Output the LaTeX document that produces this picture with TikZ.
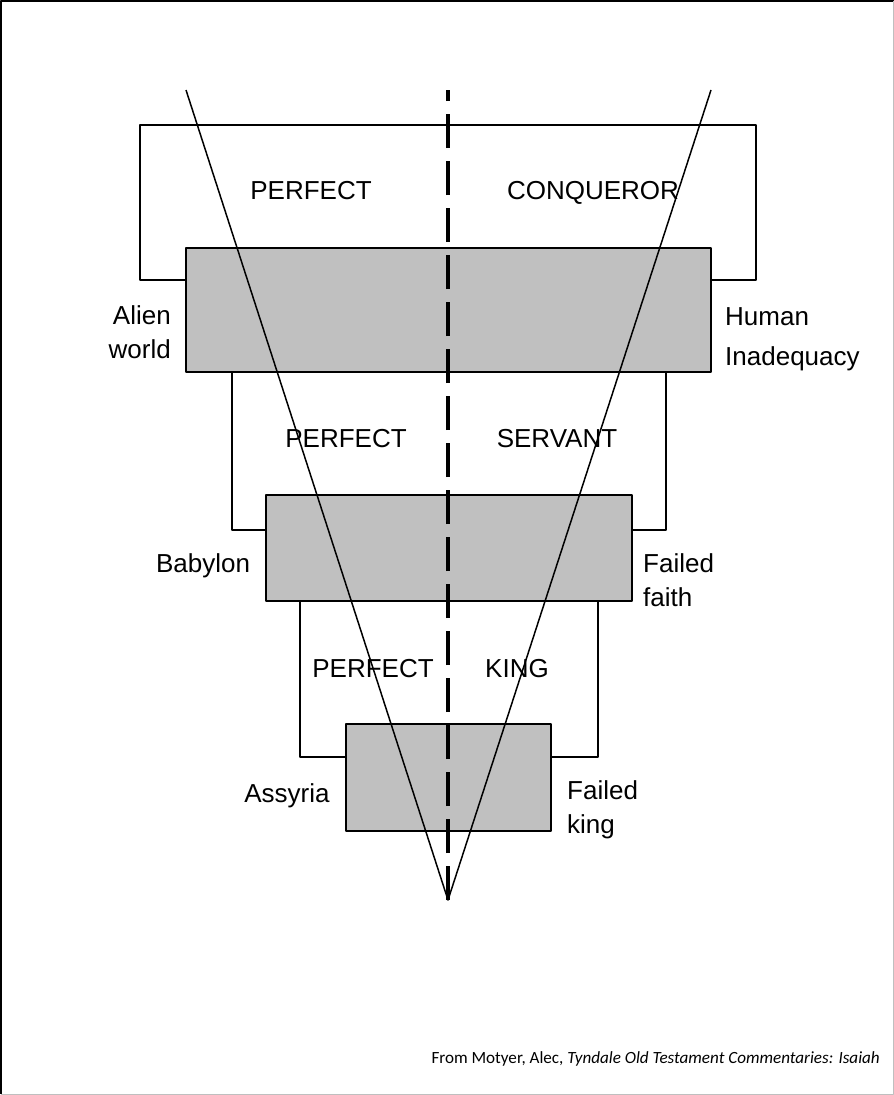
\documentclass[tikz,border=0pt]{standalone}
\usepackage{fontspec}
\setmainfont{Liberation Sans}
\newfontfamily\notefont{Carlito}
\definecolor{boxgray}{RGB}{192,192,192}
\begin{document}
\begin{tikzpicture}[x=1pt,y=-1pt,line join=round,
    graybox/.style={draw,fill=boxgray,line width=1.5pt,inner sep=0pt},
    frame/.style={line width=1.5pt},
    lbl/.style={font=\fontsize{26}{34}\selectfont,inner sep=0pt,anchor=base}]
  \useasboundingbox (0,0) rectangle (894,1095);
  % page border
  \draw[line width=1.5pt] (0.75,1094) -- (0.75,0.75) -- (893.5,0.75);
  \draw[black!25,line width=1pt] (893.5,0.75) -- (893.5,1094.5) -- (0.75,1094.5);
  % the three grey boxes
  \foreach \n/\x/\y/\w/\h in {upper/448.5/310/525/124,middle/449/548/366/106,lower/448.5/777.5/205/107}
    \node[graybox,minimum width=\w pt,minimum height=\h pt] (\n) at (\x,\y) {};
  % frames
  \draw[frame] (upper.west |- 0,280) -| (140,125) -| (756,280) -- (upper.east |- 0,280);
  \draw[frame] (upper.south -| 232,0) |- (middle.west |- 0,530);
  \draw[frame] (upper.south -| 666,0) |- (middle.east |- 0,530);
  \draw[frame] (middle.south -| 300,0) |- (lower.west |- 0,757);
  \draw[frame] (middle.south -| 598,0) |- (lower.east |- 0,757);
  % the cone and the axis
  \coordinate (apex) at (448,900);
  \coordinate (vl) at (186,90);
  \coordinate (vr) at (711,90);
  \coordinate (top) at (448,90);
  \draw[line width=1.5pt] (vl) -- (apex) -- (vr);
  \draw[line width=4pt,dash pattern=on 34pt off 13pt] (apex) -- (top);
  % titles
  \foreach \n/\x/\y/\t in {pc/311/199/PERFECT,cq/593/199/CONQUEROR,ps/346/447/PERFECT,sv/557/447/SERVANT,pk/373/677/PERFECT,kg/517/677/KING,bab/203/572/Babylon,ass/287/802/Assyria}
    \node[lbl] (\n) at (\x,\y) {\t};
  \node[lbl,anchor=base east,align=right] (alien) at (171,358) {Alien\\world};
  \node[lbl,anchor=base west,align=left] (human) at (725,365) {Human\\[6pt]Inadequacy};
  \node[lbl,anchor=base west,align=left] (faith) at (643,606) {Failed\\faith};
  \node[lbl,anchor=base west,align=left] (king) at (567,833) {Failed\\king};
  % source
  \node[font=\notefont\fontsize{17.1}{20}\selectfont,anchor=base east,inner sep=0pt] (src) at (880,1063)
    {From Motyer, Alec, \textit{Tyndale Old Testament Commentaries: Isaiah}};
\end{tikzpicture}
\end{document}
